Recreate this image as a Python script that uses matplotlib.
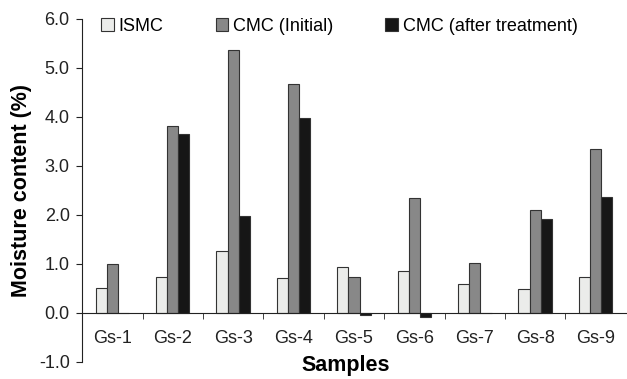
import matplotlib.pyplot as plt
import numpy as np

plt.rcParams['font.family'] = ['Liberation Sans', 'DejaVu Sans']

samples = ['Gs-1', 'Gs-2', 'Gs-3', 'Gs-4', 'Gs-5', 'Gs-6', 'Gs-7', 'Gs-8', 'Gs-9']
ismc = [0.50, 0.73, 1.26, 0.72, 0.94, 0.85, 0.59, 0.48, 0.73]
cmc_initial = [1.00, 3.82, 5.37, 4.67, 0.74, 2.34, 1.02, 2.10, 3.35]
cmc_after = [0.0, 3.65, 1.97, 3.98, -0.05, -0.08, 0.0, 1.91, 2.36]
series_names = ['ISMC', 'CMC (Initial)', 'CMC (after treatment)']
series_colors = ['#ebecea', '#888888', '#161616']
yticks = [-1.0, 0.0, 1.0, 2.0, 3.0, 4.0, 5.0, 6.0]

fig = plt.figure(figsize=(6.27, 3.79), dpi=100)
ax = fig.add_axes([0.131, 0.045, 0.867, 0.905])

x = np.arange(len(samples))
w = 0.185
for i, (vals, name, col) in enumerate(zip([ismc, cmc_initial, cmc_after], series_names, series_colors)):
    ax.bar(x + (i - 1) * w, vals, width=w, color=col, edgecolor='#333333',
           linewidth=0.8, label=name, zorder=2)

ax.set_xlim(-0.5, len(samples) - 0.5)
ax.set_ylim(-1.0, 6.0)
ax.set_yticks(yticks)
ax.set_yticklabels(['%.1f' % v for v in yticks], fontsize=13, color='#222222')

ax.spines['top'].set_visible(False)
ax.spines['right'].set_visible(False)
ax.spines['bottom'].set_position(('data', 0))
ax.spines['left'].set_color('#222222')
ax.spines['bottom'].set_color('#222222')

ax.set_xticks(x)
ax.set_xticklabels(samples, fontsize=13, color='#222222')
ax.tick_params(axis='x', which='major', length=0, pad=12)
ax.set_xticks(np.arange(0.5, len(samples) - 0.5, 1.0), minor=True)
ax.tick_params(axis='x', which='minor', length=4, direction='out', color='#222222')
ax.tick_params(axis='y', length=4, direction='out', color='#222222', pad=5)

ax.set_ylabel('Moisture content (%)', fontsize=15.5, fontweight='bold')
ax.yaxis.set_label_coords(-0.093, 0.5)
fig.text(0.551, 1 - 365 / 379, 'Samples', ha='center', va='center',
         fontsize=15.5, fontweight='bold')

leg = ax.legend(loc='upper left', bbox_to_anchor=(0.022, 1.025), ncol=3, frameon=False,
                fontsize=13, handlelength=0.7, handleheight=0.7, handletextpad=0.25,
                columnspacing=2.9, borderaxespad=0)

fig.savefig('out.png', dpi=100)
